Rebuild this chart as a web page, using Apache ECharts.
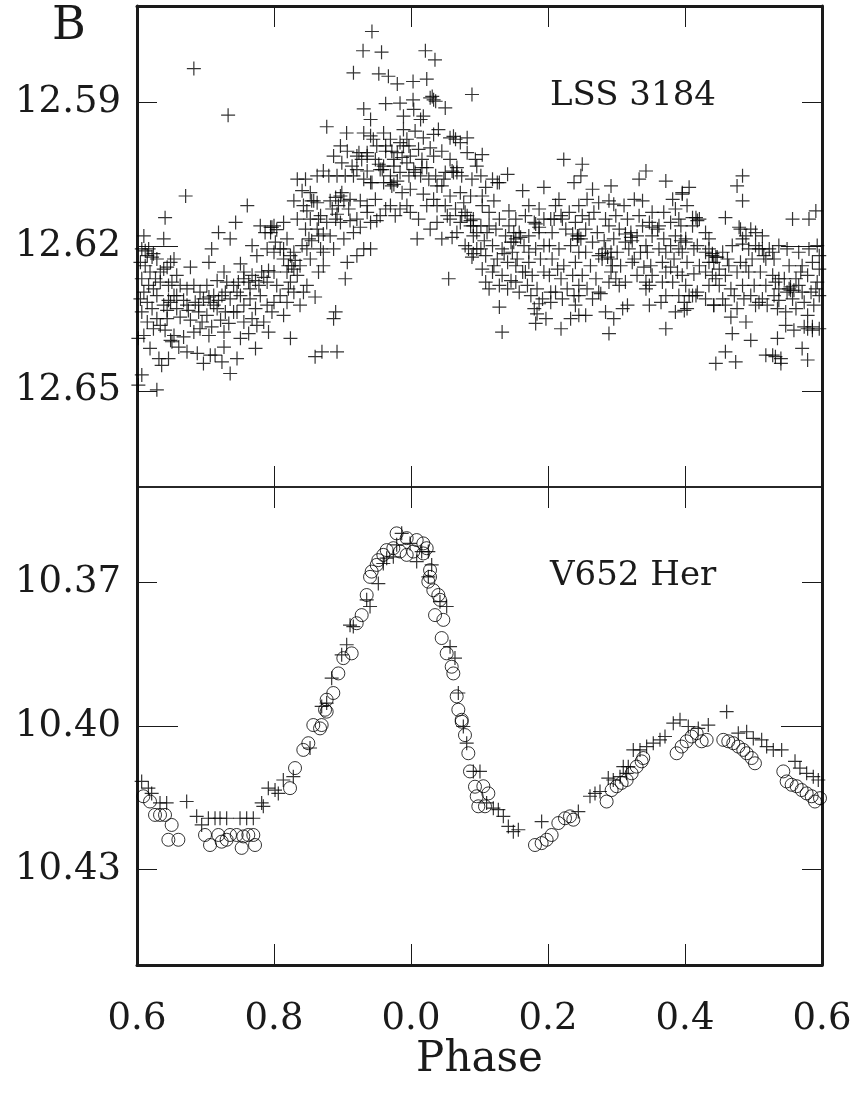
<!DOCTYPE html>
<html>
<head>
<meta charset="utf-8">
<script src="https://cdn.jsdelivr.net/npm/echarts@6/dist/echarts.min.js"></script>
<style>html,body{margin:0;padding:0;background:#fff;}#c{width:851px;height:1099px;}</style>
</head>
<body>
<div id="c"></div>
<script>
// ---- data (phase extended 0.6..1.6, magnitude) ----
const xTickValues = [0.6, 0.8, 1.0, 1.2, 1.4, 1.6];
const topTickLabels = [12.59, 12.62, 12.65];
const bottomTickLabels = [10.37, 10.40, 10.43];
const topRange = [12.57, 12.67];
const bottomRange = [10.35, 10.45];

const lss3184 = [
[0.610,12.6178],[0.607,12.6205],[0.615,12.6219],[0.622,12.6222],[0.629,12.6226],[0.605,12.6233],[0.612,12.6240],[0.639,12.6247],[0.644,12.6243],[0.619,12.6253],
[0.607,12.6267],[0.617,12.6281],[0.624,12.6288],[0.610,12.6295],[0.629,12.6302],[0.605,12.6309],[0.615,12.6316],[0.639,12.6322],[0.644,12.6333],[0.622,12.6329],
[0.607,12.6336],[0.629,12.6350],[0.634,12.6364],[0.615,12.6357],[0.624,12.6371],[0.641,12.6374],[0.610,12.6385],[0.619,12.6412],[0.632,12.6433],[0.636,12.6447],
[0.646,12.6433],[0.607,12.6467],[0.629,12.6498],[0.641,12.6140],[0.639,12.6184],[0.649,12.6233],[0.646,12.6281],[0.634,12.6274],[0.649,12.6316],[0.649,12.6395],
[0.602,12.6488],[0.602,12.6391],
[0.671,12.6095],[0.683,12.5830],[0.654,12.6226],[0.678,12.6243],[0.658,12.6260],[0.651,12.6274],[0.663,12.6281],[0.673,12.6288],[0.683,12.6281],[0.692,12.6295],
[0.654,12.6302],[0.668,12.6312],[0.685,12.6316],[0.697,12.6309],[0.658,12.6329],[0.675,12.6333],[0.690,12.6336],[0.663,12.6347],[0.678,12.6353],[0.695,12.6357],
[0.654,12.6385],[0.668,12.6388],[0.683,12.6378],[0.651,12.6398],[0.661,12.6409],[0.688,12.6422],[0.697,12.6443],[0.673,12.6419],[0.692,12.6371],
[0.719,12.6171],[0.709,12.6205],[0.736,12.6184],[0.744,12.6150],[0.733,12.5927],[0.705,12.6233],[0.727,12.6253],[0.717,12.6271],[0.731,12.6274],[0.702,12.6281],
[0.741,12.6281],[0.712,12.6302],[0.724,12.6302],[0.736,12.6309],[0.707,12.6316],[0.746,12.6295],[0.717,12.6329],[0.729,12.6336],[0.702,12.6343],[0.741,12.6336],
[0.722,12.6353],[0.709,12.6367],[0.734,12.6360],[0.705,12.6385],[0.727,12.6378],[0.714,12.6426],[0.727,12.6409],[0.724,12.6440],[0.736,12.6464],[0.746,12.6433],
[0.707,12.6426],
[0.761,12.6115],[0.768,12.6198],[0.751,12.6236],[0.775,12.6219],[0.790,12.6205],[0.756,12.6253],[0.768,12.6260],[0.782,12.6253],[0.792,12.6250],[0.748,12.6274],
[0.763,12.6274],[0.778,12.6281],[0.790,12.6274],[0.751,12.6302],[0.765,12.6309],[0.780,12.6302],[0.756,12.6322],[0.773,12.6329],[0.790,12.6322],[0.746,12.6336],
[0.768,12.6350],[0.785,12.6357],[0.756,12.6357],[0.775,12.6364],[0.792,12.6378],[0.763,12.6381],[0.773,12.6412],[0.751,12.6391],[0.780,12.6157],[0.795,12.6160],
[0.787,12.6171],
[0.800,12.6157],[0.795,12.6171],[0.814,12.6150],[0.834,12.6143],[0.802,12.6191],[0.819,12.6184],[0.809,12.6205],[0.829,12.6212],[0.841,12.6198],[0.800,12.6212],
[0.814,12.6226],[0.826,12.6240],[0.838,12.6240],[0.800,12.6253],[0.819,12.6253],[0.834,12.6260],[0.804,12.6281],[0.824,12.6274],[0.843,12.6295],[0.809,12.6302],
[0.829,12.6295],[0.800,12.6316],[0.819,12.6316],[0.838,12.6322],[0.814,12.6343],[0.824,12.6391],[0.797,12.6336],[0.821,12.6288],[0.834,12.6060],[0.841,12.6084],
[0.829,12.6105],[0.843,12.6115],
[0.846,12.6060],[0.853,12.6088],[0.863,12.6053],[0.858,12.6105],[0.848,12.6126],[0.872,12.6043],[0.880,12.6053],[0.887,12.6012],[0.877,12.5951],[0.882,12.6105],
[0.890,12.6098],[0.853,12.6143],[0.868,12.6136],[0.885,12.6122],[0.846,12.6164],[0.863,12.6164],[0.877,12.6150],[0.890,12.6143],[0.851,12.6184],[0.865,12.6178],
[0.882,12.6178],[0.848,12.6205],[0.868,12.6205],[0.887,12.6205],[0.853,12.6226],[0.872,12.6240],[0.865,12.6253],[0.848,12.6281],[0.860,12.6305],[0.890,12.6336],
[0.887,12.6350],[0.870,12.6419],[0.860,12.6429],[0.892,12.6419],[0.872,12.6212],
[0.906,12.5964],[0.916,12.5839],[0.931,12.5914],[0.931,12.5964],[0.897,12.5991],[0.907,12.6002],[0.921,12.6012],[0.936,12.6005],[0.899,12.6026],[0.914,12.6033],
[0.928,12.6019],[0.892,12.6053],[0.904,12.6053],[0.916,12.6053],[0.931,12.6060],[0.941,12.6067],[0.899,12.6088],[0.911,12.6102],[0.926,12.6105],[0.936,12.6115],
[0.894,12.6115],[0.909,12.6122],[0.921,12.6143],[0.936,12.6129],[0.897,12.6150],[0.911,12.6146],[0.926,12.6160],[0.941,12.6150],[0.902,12.6184],[0.916,12.6171],
[0.931,12.6205],[0.921,12.6219],[0.907,12.6233],[0.904,12.6267],[0.941,12.6205],[0.930,12.5793],
[0.943,12.5753],[0.957,12.5796],[0.953,12.5841],[0.967,12.5846],[0.980,12.5862],[0.963,12.5903],[0.984,12.5902],[0.941,12.5936],[0.960,12.5964],[0.945,12.5977],
[0.970,12.5977],[0.984,12.5984],[0.950,12.5991],[0.963,12.6002],[0.980,12.6005],[0.948,12.6019],[0.960,12.6033],[0.975,12.6019],[0.987,12.6015],[0.955,12.6040],
[0.970,12.6053],[0.984,12.6046],[0.943,12.6067],[0.960,12.6067],[0.975,12.6071],[0.987,12.6088],[0.948,12.6102],[0.970,12.6115],[0.984,12.6122],[0.955,12.6136],
[0.950,12.6146],[0.977,12.6136],[0.963,12.6122],[0.941,12.5970],[0.989,12.5957],[0.972,12.6074],
[1.021,12.5793],[1.035,12.5812],[1.003,12.5857],[1.023,12.5852],[1.031,12.5888],[1.003,12.5895],[1.033,12.5895],[1.014,12.5936],[0.989,12.5929],[1.006,12.5960],
[0.994,12.5977],[1.018,12.5974],[1.033,12.5967],[0.997,12.5991],[1.011,12.5998],[1.028,12.5995],[0.999,12.6012],[1.016,12.6019],[1.033,12.6012],[1.004,12.6040],
[1.023,12.6036],[0.997,12.6053],[1.014,12.6053],[1.036,12.6053],[0.999,12.6081],[1.018,12.6091],[1.033,12.6102],[0.994,12.6115],[1.011,12.6143],[1.028,12.6164],
[1.009,12.6184],[0.999,12.6129],[1.038,12.6150],[1.023,12.6115],[1.038,12.6074],[1.018,12.5929],[1.004,12.5915],
[1.040,12.5957],[1.050,12.5912],[1.062,12.5971],[1.072,12.5984],[1.082,12.5974],[1.089,12.5884],[1.045,12.6002],[1.057,12.6019],[1.067,12.6036],[1.082,12.6005],
[1.094,12.6019],[1.050,12.6046],[1.062,12.6046],[1.074,12.6053],[1.089,12.6060],[1.096,12.6033],[1.045,12.6074],[1.057,12.6095],[1.072,12.6088],[1.087,12.6095],
[1.050,12.6115],[1.065,12.6122],[1.079,12.6129],[1.091,12.6143],[1.057,12.6143],[1.072,12.6150],[1.087,12.6157],[1.096,12.6171],[1.045,12.6184],[1.060,12.6181],
[1.079,12.6198],[1.089,12.6222],[1.096,12.6205],[1.055,12.6267],[1.074,12.6136],[1.091,12.6178],[1.067,12.6171],
[1.104,12.6009],[1.126,12.6067],[1.141,12.6050],[1.109,12.6077],[1.102,12.6053],[1.121,12.6105],[1.104,12.6115],[1.114,12.6129],[1.129,12.6143],[1.143,12.6126],
[1.102,12.6157],[1.111,12.6171],[1.124,12.6164],[1.138,12.6178],[1.107,12.6188],[1.119,12.6198],[1.133,12.6205],[1.146,12.6191],[1.109,12.6219],[1.126,12.6226],
[1.141,12.6233],[1.104,12.6247],[1.119,12.6253],[1.133,12.6260],[1.146,12.6271],[1.114,12.6288],[1.129,12.6281],[1.109,12.6274],[1.141,12.6288],[1.129,12.6326],
[1.133,12.6378],[1.121,12.6240],[1.148,12.6212],[1.143,12.6157],[1.102,12.6205],
[1.163,12.6084],[1.194,12.6077],[1.172,12.6115],[1.187,12.6122],[1.153,12.6143],[1.167,12.6136],[1.180,12.6150],[1.194,12.6143],[1.158,12.6171],[1.172,12.6178],
[1.187,12.6171],[1.150,12.6191],[1.165,12.6198],[1.182,12.6205],[1.194,12.6198],[1.155,12.6226],[1.172,12.6233],[1.189,12.6226],[1.163,12.6253],[1.177,12.6260],
[1.194,12.6253],[1.153,12.6274],[1.170,12.6281],[1.184,12.6288],[1.158,12.6295],[1.175,12.6302],[1.192,12.6309],[1.180,12.6329],[1.187,12.6319],[1.184,12.6340],
[1.182,12.6360],[1.197,12.6350],[1.167,12.6253],[1.153,12.6240],
[1.223,12.6019],[1.250,12.6029],[1.248,12.6053],[1.238,12.6067],[1.211,12.6115],[1.231,12.6129],[1.245,12.6115],[1.204,12.6143],[1.221,12.6143],[1.240,12.6150],
[1.206,12.6171],[1.226,12.6164],[1.243,12.6178],[1.202,12.6198],[1.216,12.6205],[1.233,12.6198],[1.245,12.6212],[1.206,12.6226],[1.223,12.6240],[1.240,12.6233],
[1.202,12.6260],[1.219,12.6267],[1.236,12.6260],[1.211,12.6295],[1.228,12.6288],[1.245,12.6281],[1.204,12.6316],[1.221,12.6309],[1.238,12.6302],[1.219,12.6371],
[1.233,12.6350],[1.245,12.6343],[1.240,12.6322],[1.204,12.6295],[1.214,12.6247],
[1.265,12.6081],[1.292,12.6074],[1.257,12.6102],[1.274,12.6109],[1.289,12.6105],[1.250,12.6136],[1.267,12.6129],[1.284,12.6143],[1.255,12.6164],[1.272,12.6171],
[1.289,12.6157],[1.248,12.6184],[1.265,12.6191],[1.282,12.6188],[1.255,12.6212],[1.274,12.6219],[1.292,12.6212],[1.262,12.6240],[1.279,12.6226],[1.294,12.6240],
[1.250,12.6260],[1.270,12.6267],[1.289,12.6274],[1.257,12.6288],[1.274,12.6295],[1.245,12.6302],[1.265,12.6309],[1.284,12.6336],[1.255,12.6343],[1.289,12.6381],
[1.296,12.6350],[1.277,12.6298],[1.292,12.6253],
[1.343,12.6043],[1.333,12.6060],[1.296,12.6112],[1.311,12.6115],[1.326,12.6102],[1.338,12.6105],[1.299,12.6136],[1.316,12.6143],[1.333,12.6136],[1.304,12.6164],
[1.321,12.6171],[1.338,12.6157],[1.296,12.6184],[1.313,12.6191],[1.330,12.6178],[1.343,12.6198],[1.301,12.6212],[1.318,12.6205],[1.335,12.6212],[1.306,12.6240],
[1.323,12.6233],[1.340,12.6243],[1.299,12.6267],[1.313,12.6274],[1.330,12.6260],[1.343,12.6274],[1.304,12.6281],[1.309,12.6329],[1.316,12.6322],[1.348,12.6322],
[1.343,12.6288],[1.326,12.6226],
[1.372,12.6064],[1.382,12.6102],[1.396,12.6088],[1.406,12.6077],[1.352,12.6129],[1.369,12.6129],[1.386,12.6122],[1.348,12.6150],[1.362,12.6157],[1.379,12.6150],
[1.391,12.6143],[1.352,12.6178],[1.369,12.6184],[1.386,12.6178],[1.345,12.6212],[1.362,12.6205],[1.379,12.6198],[1.391,12.6205],[1.350,12.6240],[1.367,12.6233],
[1.384,12.6226],[1.352,12.6260],[1.372,12.6253],[1.389,12.6253],[1.348,12.6281],[1.367,12.6274],[1.382,12.6274],[1.372,12.6302],[1.391,12.6302],[1.406,12.6302],
[1.386,12.6336],[1.399,12.6333],[1.372,12.6371],[1.365,12.6316],
[1.396,12.6091],[1.416,12.6140],[1.421,12.6143],[1.403,12.6115],[1.394,12.6157],[1.411,12.6157],[1.430,12.6171],[1.401,12.6184],[1.418,12.6198],[1.435,12.6184],
[1.396,12.6212],[1.413,12.6205],[1.430,12.6212],[1.440,12.6219],[1.403,12.6233],[1.421,12.6240],[1.435,12.6233],[1.396,12.6260],[1.413,12.6257],[1.430,12.6253],
[1.440,12.6260],[1.401,12.6281],[1.418,12.6295],[1.435,12.6281],[1.399,12.6316],[1.416,12.6302],[1.430,12.6309],[1.442,12.6322],[1.403,12.6329],[1.435,12.6205],
[1.411,12.6302],
[1.459,12.6140],[1.445,12.6222],[1.455,12.6212],[1.469,12.6198],[1.484,12.6184],[1.479,12.6160],[1.496,12.6164],[1.450,12.6247],[1.464,12.6240],[1.481,12.6233],
[1.445,12.6267],[1.459,12.6260],[1.476,12.6253],[1.489,12.6240],[1.450,12.6281],[1.467,12.6288],[1.484,12.6281],[1.455,12.6309],[1.472,12.6302],[1.486,12.6309],
[1.442,12.6322],[1.459,12.6322],[1.476,12.6329],[1.467,12.6347],[1.489,12.6357],[1.469,12.6381],[1.496,12.6395],[1.459,12.6419],[1.445,12.6443],[1.474,12.6440],
[1.484,12.6053],[1.476,12.6074],[1.484,12.6105],[1.462,12.6226],
[1.503,12.6171],[1.513,12.6178],[1.493,12.6205],[1.508,12.6205],[1.523,12.6205],[1.537,12.6198],[1.498,12.6226],[1.515,12.6219],[1.530,12.6226],[1.493,12.6253],
[1.510,12.6253],[1.528,12.6260],[1.537,12.6267],[1.501,12.6281],[1.518,12.6281],[1.532,12.6274],[1.496,12.6302],[1.513,12.6309],[1.530,12.6302],[1.537,12.6288],
[1.503,12.6322],[1.520,12.6322],[1.535,12.6329],[1.537,12.6312],[1.518,12.6426],[1.532,12.6429],[1.540,12.6443],[1.535,12.6391],[1.528,12.6426],[1.540,12.6433],
[1.508,12.6316],
[1.557,12.6143],[1.581,12.6143],[1.591,12.6126],[1.549,12.6205],[1.566,12.6212],[1.581,12.6205],[1.593,12.6198],[1.552,12.6240],[1.571,12.6240],[1.586,12.6233],
[1.596,12.6247],[1.545,12.6267],[1.562,12.6267],[1.579,12.6260],[1.552,12.6288],[1.566,12.6281],[1.584,12.6295],[1.596,12.6302],[1.557,12.6309],[1.574,12.6316],
[1.588,12.6322],[1.547,12.6336],[1.562,12.6329],[1.579,12.6343],[1.547,12.6364],[1.559,12.6374],[1.574,12.6367],[1.586,12.6374],[1.596,12.6371],[1.571,12.6412],
[1.579,12.6436],[1.554,12.6291],[1.591,12.6288],[1.569,12.6253],
// denser clusters
[0.612,12.6209],[0.624,12.6215],[0.617,12.6205],[0.634,12.6253],[0.627,12.6267],[0.658,12.6302],[0.646,12.6312],[0.705,12.6305],[0.719,12.6312],[0.712,12.6322],
[0.729,12.6295],[0.673,12.6322],[0.690,12.6322],[0.644,12.6350],[0.756,12.6267],[0.773,12.6271],[0.765,12.6288],[0.785,12.6264],[0.797,12.6160],[0.804,12.6165],
[0.814,12.6205],[0.824,12.6219],[0.831,12.6229],[0.821,12.6240],[0.829,12.6247],[0.855,12.6105],[0.863,12.6109],[0.865,12.6143],[0.872,12.6174],[0.855,12.6188],
[0.897,12.6095],[0.902,12.6105],[0.892,12.6133],[0.924,12.6005],[0.936,12.6012],[0.921,12.6040],[0.936,12.6043],[0.953,12.6029],[0.958,12.6040],[0.970,12.6067],
[0.980,12.6064],[0.975,12.6033],[0.963,12.5991],[0.972,12.6002],[0.989,12.5991],[0.994,12.6026],[1.006,12.6046],[1.016,12.6036],[1.028,12.5891],[1.036,12.5898],
[1.026,12.6060],[1.048,12.6060],[1.057,12.5974],[1.065,12.5977],[1.060,12.6043],[1.067,12.6046],[1.082,12.6136],[1.087,12.6146],[1.091,12.6157],[1.084,12.6205],
[1.091,12.6215],[1.077,12.6109],[1.053,12.6136],[1.038,12.6115],
[1.119,12.6060],[1.129,12.6067],[1.104,12.6095],[1.114,12.6157],[1.150,12.6171],[1.160,12.6181],[1.153,12.6184],[1.182,12.6153],[1.187,12.6160],[1.209,12.6143],
[1.219,12.6136],[1.236,12.6174],[1.243,12.6184],[1.245,12.6178],[1.279,12.6215],[1.287,12.6222],[1.292,12.6226],[1.284,12.6205],[1.313,12.6174],[1.321,12.6181],
[1.323,12.6188],[1.352,12.6160],[1.360,12.6164],[1.394,12.6188],[1.401,12.6191],[1.411,12.6140],[1.418,12.6146],[1.440,12.6215],[1.447,12.6222],[1.442,12.6233],
[1.481,12.6164],[1.489,12.6178],[1.484,12.6195],[1.503,12.6198],[1.513,12.6205],[1.554,12.6284],[1.559,12.6291],[1.549,12.6295],[1.579,12.6371],[1.586,12.6367],
[1.571,12.6295],[1.593,12.6274],[1.596,12.6219],[1.518,12.6226],[1.528,12.6212],[1.216,12.6102],[1.260,12.6143],[1.372,12.6212],[1.379,12.6243],[1.172,12.6212],
[1.136,12.6215]
];

const v652Circles = [
[0.979,10.3597],[0.9937,10.3607],[1.0083,10.3611],[1.0180,10.3618],[1.0229,10.3628],[1.0180,10.3639],[1.0034,10.3635],[0.9937,10.3642],[0.9840,10.3635],[0.9742,10.3628],
[0.9645,10.3632],[0.9596,10.3642],[0.9523,10.3653],[0.9499,10.3663],[0.9426,10.3677],[0.9402,10.3688],[0.9353,10.3726],[0.9280,10.3768],[0.9207,10.3785],[0.9134,10.3848],
[0.9012,10.3858],[0.8939,10.3890],[0.8866,10.3931],[0.8769,10.3945],[0.8745,10.3966],[0.8696,10.3998],[0.8574,10.3998],[1.0278,10.3674],[1.0278,10.3688],[1.0253,10.3698],
[1.0326,10.3716],[1.0399,10.3726],[1.0423,10.3736],[1.0351,10.3768],[1.0472,10.3778],[1.0448,10.3816],[1.0521,10.3848],[1.0594,10.3876],[1.0618,10.3890],[1.0667,10.3938],
[1.0691,10.3966],[1.0740,10.3987],
[0.6093,10.4147],[0.6190,10.4158],[0.6263,10.4186],[0.6336,10.4186],[0.6409,10.4186],[0.6506,10.4207],[0.6458,10.4238],[0.6604,10.4238],[0.6993,10.4228],[0.7066,10.4249],
[0.7188,10.4228],[0.7236,10.4242],[0.7309,10.4238],[0.7358,10.4228],[0.7455,10.4228],[0.7552,10.4231],[0.7625,10.4228],[0.7698,10.4228],[0.7528,10.4255],[0.7723,10.4249],
[0.8234,10.4130],[0.8307,10.4088],[0.8428,10.4050],[0.8501,10.4036],[0.8672,10.4005],[0.8769,10.3970],[1.0837,10.4057],[1.0788,10.4019],[1.0740,10.3991],
[1.0861,10.4095],[1.0934,10.4127],[1.0959,10.4147],[1.0983,10.4168],
[1.1056,10.4126],[1.1129,10.4141],[1.1080,10.4168],[1.1810,10.4249],[1.1907,10.4245],[1.1980,10.4238],[1.2053,10.4228],[1.2151,10.4203],[1.2248,10.4193],[1.2321,10.4189],
[1.2370,10.4196],[1.2856,10.4158],[1.2929,10.4134],[1.3002,10.4126],[1.3075,10.4119],[1.3148,10.4113],[1.3221,10.4099],[1.3294,10.4085],[1.3367,10.4074],[1.3391,10.4067],
[1.3878,10.4057],[1.3951,10.4043],[1.4024,10.4032],[1.4097,10.4022],[1.4170,10.4015],[1.4243,10.4032],[1.4316,10.4029],[1.4559,10.4029],[1.4632,10.4032],[1.4705,10.4036],
[1.4778,10.4043],[1.4851,10.4050],[1.4900,10.4057],[1.4973,10.4067],[1.5021,10.4078],[1.5435,10.4095],[1.5484,10.4116],[1.5557,10.4123],[1.5630,10.4126],[1.5703,10.4134],
[1.5776,10.4141],[1.5849,10.4147],[1.5897,10.4158],[1.5971,10.4151]
];

const v652Crosses = [
[0.9864,10.3597],[0.9986,10.3618],[1.0083,10.3656],[1.0156,10.3635],[1.0253,10.3635],[0.9742,10.3646],[0.9596,10.3660],[0.9523,10.3702],[0.9353,10.3736],[0.9402,10.3750],
[0.9158,10.3792],[0.9110,10.3789],[0.9061,10.3830],[0.8988,10.3851],[0.8842,10.3900],[0.8769,10.3952],[0.8696,10.3959],[1.0302,10.3663],[1.0253,10.3688],[1.0521,10.3750],
[1.0423,10.3740],[1.0570,10.3834],[1.0642,10.3858],[1.0691,10.3931],[1.0764,10.4001],[0.9791,10.3621],[0.9645,10.3649],
[0.6068,10.4116],[0.6166,10.4130],[0.6214,10.4141],[0.6336,10.4161],[0.6433,10.4161],[0.6725,10.4158],[0.6871,10.4189],[0.6944,10.4207],[0.7042,10.4193],[0.7139,10.4193],
[0.7212,10.4193],[0.7309,10.4193],[0.7504,10.4193],[0.7601,10.4193],[0.7698,10.4193],[0.7820,10.4161],[0.7844,10.4168],[0.7917,10.4130],[0.8015,10.4134],[0.8063,10.4141],
[0.8136,10.4113],[0.8282,10.4106],[0.8526,10.4046],[1.0813,10.4036],[1.0910,10.4095],
[1.1007,10.4095],[1.1104,10.4161],[1.1202,10.4172],[1.1275,10.4175],[1.1348,10.4189],[1.1421,10.4210],[1.1494,10.4221],[1.1567,10.4217],[1.1907,10.4200],[1.2443,10.4179],
[1.2613,10.4147],[1.2686,10.4141],[1.2759,10.4137],[1.2880,10.4109],[1.2953,10.4113],[1.3051,10.4106],[1.3148,10.4099],[1.3099,10.4085],[1.3172,10.4085],[1.3245,10.4050],
[1.3343,10.4050],[1.3440,10.4043],[1.3537,10.4036],[1.3635,10.4029],[1.3708,10.4022],[1.3829,10.3994],[1.3927,10.3987],[1.4048,10.4001],[1.4194,10.4005],[1.4340,10.3998],
[1.4608,10.3970],[1.4778,10.4015],[1.4900,10.4012],[1.4997,10.4026],[1.5119,10.4029],[1.5192,10.4043],[1.5289,10.4050],[1.5411,10.4050],[1.5606,10.4074],[1.5678,10.4088],
[1.5776,10.4099],[1.5873,10.4106],[1.5946,10.4113]
];

// ---- chart ----
const FONT = 'DejaVu Serif';
const INK = '#1a1a1a';
const crossPath = 'path://M6.4,0H7.6V6.4H14V7.6H7.6V14H6.4V7.6H0V6.4H6.4Z';
const phaseLabel = v => (Math.round((v % 1) * 10) / 10).toFixed(1);

function xAx(grid, pos, lineW, showLabel) {
  return {
    type: 'value', gridIndex: grid, position: pos, min: 0.6, max: 1.6, interval: 0.2,
    axisLine: { show: true, onZero: false, lineStyle: { color: INK, width: lineW } },
    axisTick: { show: true, inside: true, length: 21, lineStyle: { color: INK, width: 1 } },
    axisLabel: { show: showLabel, margin: 36, fontFamily: FONT, fontSize: 37, color: INK, formatter: phaseLabel },
    splitLine: { show: false }
  };
}
function yAx(grid, pos, range, tickVals, labelVals, tickLen, showLine, showLabel) {
  return {
    type: 'value', gridIndex: grid, position: pos, inverse: true, min: range[0], max: range[1],
    axisLine: { show: showLine, onZero: false, lineStyle: { color: INK, width: 3 } },
    axisTick: { show: true, inside: true, length: tickLen, customValues: tickVals, lineStyle: { color: INK, width: 1 } },
    axisLabel: { show: showLabel, customValues: labelVals, margin: 16, fontFamily: FONT, fontSize: 37, color: INK, formatter: v => v.toFixed(2) },
    splitLine: { show: false }
  };
}

const chart = echarts.init(document.getElementById('c'), null, { renderer: 'canvas' });
chart.setOption({
  animation: false,
  backgroundColor: '#fff',
  grid: [
    { left: 137, right: 29, top: 6, height: 481, outerBoundsMode: 'none', containLabel: false },
    { left: 137, right: 29, top: 487, height: 478, outerBoundsMode: 'none', containLabel: false }
  ],
  xAxis: [
    xAx(0, 'bottom', 1.5, false),
    xAx(0, 'top', 3, false),
    xAx(1, 'top', 1.5, false),
    Object.assign(xAx(1, 'bottom', 3, true), {
      name: 'Phase', nameLocation: 'middle', nameGap: 71,
      nameTextStyle: { fontFamily: FONT, fontSize: 42, color: INK }
    })
  ],
  yAxis: [
    yAx(0, 'left', topRange, [topTickLabels[0], topTickLabels[2]], topTickLabels, 20, true, true),
    yAx(0, 'left', topRange, [topTickLabels[1]], [], 41, false, false),
    yAx(0, 'right', topRange, [topTickLabels[0], topTickLabels[2]], [], 20, true, false),
    yAx(0, 'right', topRange, [topTickLabels[1]], [], 41, false, false),
    yAx(1, 'left', bottomRange, [bottomTickLabels[0], bottomTickLabels[2]], bottomTickLabels, 20, true, true),
    yAx(1, 'left', bottomRange, [bottomTickLabels[1]], [], 41, false, false),
    yAx(1, 'right', bottomRange, [bottomTickLabels[0], bottomTickLabels[2]], [], 20, true, false),
    yAx(1, 'right', bottomRange, [bottomTickLabels[1]], [], 41, false, false)
  ],
  series: [
    {
      type: 'scatter', xAxisIndex: 0, yAxisIndex: 0, data: lss3184,
      symbol: crossPath, symbolSize: 14, itemStyle: { color: '#000' }, silent: true
    },
    {
      type: 'scatter', xAxisIndex: 3, yAxisIndex: 4, data: v652Crosses,
      symbol: crossPath, symbolSize: 14, itemStyle: { color: '#000' }, silent: true
    },
    {
      type: 'scatter', xAxisIndex: 3, yAxisIndex: 4, data: v652Circles,
      symbol: 'circle', symbolSize: 13,
      itemStyle: { color: 'rgba(0,0,0,0)', borderColor: '#000', borderWidth: 1 }, silent: true
    }
  ],
  graphic: [
    { type: 'text', left: 52, top: 4, style: { text: 'B', font: '46px "DejaVu Serif"', fill: INK } },
    { type: 'text', left: 550, top: 79, style: { text: 'LSS 3184', font: '34px "DejaVu Serif"', fill: INK } },
    { type: 'text', left: 550, top: 559, style: { text: 'V652 Her', font: '34px "DejaVu Serif"', fill: INK } }
  ]
});
</script>
</body>
</html>
